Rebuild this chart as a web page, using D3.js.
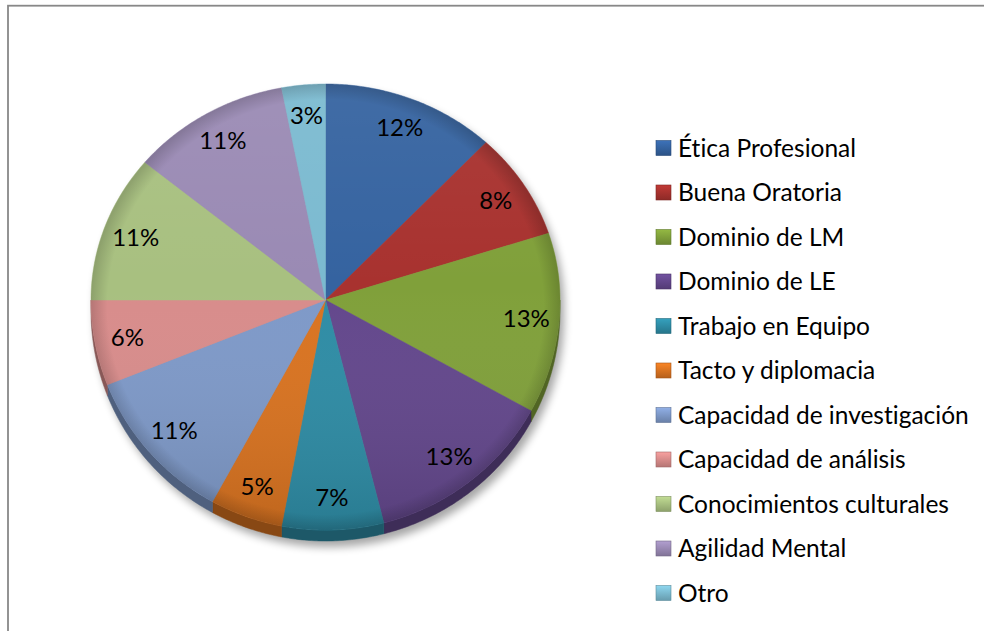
<!DOCTYPE html>
<html>
<head>
<meta charset="utf-8">
<script src="https://cdn.jsdelivr.net/npm/d3@7"></script>
<style>
  html, body { margin: 0; padding: 0; background: #fff; }
  svg { display: block; }
  text { font-variant-ligatures: none; }
</style>
</head>
<body>
<svg id="chart" width="984" height="631"></svg>
<script>
// data
const categories = ["Ética Profesional", "Buena Oratoria", "Dominio de LM", "Dominio de LE",
  "Trabajo en Equipo", "Tacto y diplomacia", "Capacidad de investigación",
  "Capacidad de análisis", "Conocimientos culturales", "Agilidad Mental", "Otro"];
const values = [12, 8, 13, 13, 7, 5, 11, 6, 11, 11, 3];
const labels = ["12%", "8%", "13%", "13%", "7%", "5%", "11%", "6%", "11%", "11%", "3%"];
const colors = ["#3563a0", "#a8322f", "#80a03a", "#63478c", "#2e8ca5", "#d97320",
  "#7e99c8", "#d88c8b", "#a8c080", "#9a8ab4", "#7bbad0"];

const svg = d3.select("#chart");
const font = "Lato, 'Open Sans', sans-serif";

// outer chart border (right/bottom run off the picture)
svg.append("rect")
  .attr("x", 8).attr("y", 5.7)
  .attr("width", 1100).attr("height", 800)
  .attr("fill", "none")
  .attr("stroke", "#888")
  .attr("stroke-width", 1.8);

// pie geometry: slightly tilted, so top radius is shorter than bottom
const cx = 325.5, vy = 300, rx = 234.5, ryT = 216, ryB = 230, depth = 11;

function pt(a, r = 1) {
  const c = Math.cos(a);
  return [cx + rx * r * Math.sin(a), vy - r * c * (c > 0 ? ryT : ryB)];
}

function arcPoints(a0, a1, r = 1, dy = 0) {
  const n = Math.max(2, Math.ceil(Math.abs(a1 - a0) / 0.01));
  return d3.range(n + 1).map(i => {
    const p = pt(a0 + (a1 - a0) * i / n, r);
    return [p[0], p[1] + dy];
  });
}

const pie = d3.pie().sort(null).value(d => d)(values);
const line = d3.line();

const defs = svg.append("defs");

// soft shadow
const blur = defs.append("filter").attr("id", "shadow")
  .attr("x", "-10%").attr("y", "-10%").attr("width", "120%").attr("height", "120%");
blur.append("feGaussianBlur").attr("stdDeviation", 4);

const faceShade = defs.append("linearGradient").attr("id", "faceShade")
  .attr("x1", 0).attr("y1", 0).attr("x2", 0).attr("y2", 1);
faceShade.append("stop").attr("offset", "0%").attr("stop-color", "#fff").attr("stop-opacity", 0.06);
faceShade.append("stop").attr("offset", "45%").attr("stop-color", "#fff").attr("stop-opacity", 0);
faceShade.append("stop").attr("offset", "100%").attr("stop-color", "#000").attr("stop-opacity", 0.12);

const bevel = defs.append("radialGradient").attr("id", "bevel")
  .attr("cx", "50%").attr("cy", "50%").attr("r", "50%");
bevel.append("stop").attr("offset", "93%").attr("stop-color", "#000").attr("stop-opacity", 0);
bevel.append("stop").attr("offset", "100%").attr("stop-color", "#000").attr("stop-opacity", 0.16);

const rim = arcPoints(0, 2 * Math.PI);

// shadow under the pie
svg.append("path")
  .attr("d", line(rim.map(p => [p[0] + 4, p[1] + 6 + (p[1] > vy ? depth : 0)])) + "Z")
  .attr("fill", "#000")
  .attr("opacity", 0.35)
  .attr("filter", "url(#shadow)");

// side wall of the lower half
const g = svg.append("g");
pie.forEach((d, i) => {
  const s0 = Math.max(d.startAngle, Math.PI / 2);
  const s1 = Math.min(d.endAngle, 3 * Math.PI / 2);
  if (s0 >= s1) return;
  const top = arcPoints(s0, s1);
  const bot = arcPoints(s1, s0, 1, depth);
  g.append("path")
    .attr("d", line(top.concat(bot)) + "Z")
    .attr("fill", d3.color(colors[i]).darker(1.3))
    .attr("stroke", d3.color(colors[i]).darker(1.3))
    .attr("stroke-width", 0.5);
});

// top faces
pie.forEach((d, i) => {
  const pts = [[cx, vy]].concat(arcPoints(d.startAngle, d.endAngle));
  g.append("path")
    .attr("d", line(pts) + "Z")
    .attr("fill", colors[i])
    .attr("stroke", colors[i])
    .attr("stroke-width", 0.5);
});

g.append("path").attr("d", line(rim) + "Z").attr("fill", "url(#faceShade)");
g.append("path").attr("d", line(rim) + "Z").attr("fill", "url(#bevel)");

// percentage labels
pie.forEach((d, i) => {
  const mid = (d.startAngle + d.endAngle) / 2;
  const p = pt(mid, 0.86);
  svg.append("text")
    .attr("x", p[0]).attr("y", p[1])
    .attr("dy", "0.36em")
    .attr("text-anchor", "middle")
    .attr("font-family", font)
    .attr("font-size", 24)
    .attr("fill", "#000")
    .text(labels[i]);
});

// legend
const legend = svg.append("g").attr("transform", "translate(656,148)");
categories.forEach((c, i) => {
  const row = legend.append("g").attr("transform", `translate(0,${i * 44.5})`);
  const gid = "lg" + i;
  const lg = defs.append("linearGradient").attr("id", gid)
    .attr("x1", 0).attr("y1", 0).attr("x2", 0).attr("y2", 1);
  lg.append("stop").attr("offset", "0%").attr("stop-color", d3.color(colors[i]).brighter(0.4));
  lg.append("stop").attr("offset", "100%").attr("stop-color", d3.color(colors[i]).darker(0.5));
  row.append("rect")
    .attr("x", 0).attr("y", -7.5)
    .attr("width", 15).attr("height", 15)
    .attr("fill", `url(#${gid})`)
    .attr("stroke", d3.color(colors[i]).darker(0.8))
    .attr("stroke-width", 0.6);
  row.append("text")
    .attr("x", 22).attr("y", 0)
    .attr("dy", "0.36em")
    .attr("font-family", font)
    .attr("font-size", 24.5)
    .attr("fill", "#000")
    .text(c);
});
</script>
</body>
</html>
